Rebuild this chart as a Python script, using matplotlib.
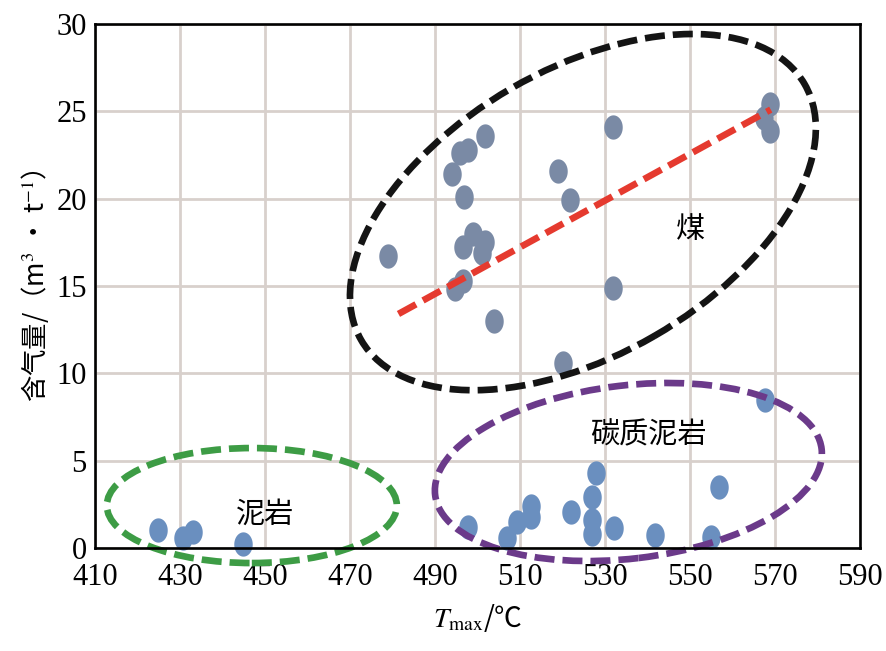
import numpy as np
import matplotlib
matplotlib.use('Agg')
import matplotlib.pyplot as plt
from matplotlib.patches import Ellipse
from matplotlib.path import Path
import matplotlib.transforms as mtransforms

# ---- data ----
coal_tmax = [478.9, 493.9, 495.9, 497.8, 501.8, 496.9, 499.0, 496.7, 501.8, 501.0,
             496.7, 494.8, 503.9, 518.9, 521.8, 531.8, 531.8, 520.0, 568.8, 567.4, 568.8]
coal_gas = [16.7, 21.4, 22.6, 22.8, 23.6, 20.1, 18.0, 17.25, 17.5, 16.9,
            15.3, 14.8, 13.0, 21.6, 19.9, 24.1, 14.9, 10.6, 25.4, 24.6, 23.9]

carb_tmax = [497.8, 506.9, 509.3, 512.7, 512.7, 521.9, 527.9, 526.9, 526.9, 526.9,
             532.0, 541.8, 554.9, 556.8, 567.6]
carb_gas = [1.22, 0.55, 1.5, 2.4, 1.75, 2.08, 4.27, 2.9, 1.6, 0.8,
            1.13, 0.74, 0.65, 3.47, 8.47]

mud_tmax = [424.9, 430.6, 433.0, 444.9]
mud_gas = [1.03, 0.6, 0.93, 0.23]

trend_tmax = [481.4, 569.0]
trend_gas = [13.4, 25.1]

x_ticks = [410, 430, 450, 470, 490, 510, 530, 550, 570, 590]
y_ticks = [0, 5, 10, 15, 20, 25, 30]

labels = ['煤', '碳质泥岩', '泥岩']
label_x = [550.0, 540.1, 450.0]
label_y = [18.2, 6.47, 1.9]

# ---- style ----
plt.rcParams['mathtext.fontset'] = 'stix'
cjk = ['Noto Sans CJK SC', 'DejaVu Sans']
serif = ['Liberation Serif', 'DejaVu Serif']

fig = plt.figure(figsize=(8.86, 6.51), dpi=100)
ax = fig.add_axes([95/886, 1-548/651, (860-95)/886, (548-24)/651])

ax.set_xlim(410, 590)
ax.set_ylim(0, 30)
ax.set_xticks(x_ticks)
ax.set_yticks(y_ticks)
ax.grid(True, color='#d8d0cc', lw=2.0, zorder=0)
ax.set_axisbelow(True)
ax.tick_params(length=0, labelsize=22, pad=11)
ax.tick_params(axis='y', pad=6)
for lab in ax.get_xticklabels() + ax.get_yticklabels():
    lab.set_family(serif)
for s in ax.spines.values():
    s.set_linewidth(1.9)
    s.set_color('black')
    s.set_zorder(5)

# marker: slightly tall ellipse
t = np.linspace(0, 2*np.pi, 65)
mk = Path(np.column_stack([0.76*np.cos(t), np.sin(t)]), closed=True)

ax.scatter(coal_tmax, coal_gas, s=17.5**2, marker=mk, color='#7a8aa5', lw=0, zorder=3)
ax.scatter(carb_tmax, carb_gas, s=17.5**2, marker=mk, color='#6a8fbf', lw=0, zorder=3, clip_on=False)
ax.scatter(mud_tmax, mud_gas, s=17.5**2, marker=mk, color='#6a8fbf', lw=0, zorder=3, clip_on=False)

ax.plot(trend_tmax, trend_gas, color='#e53a2f', lw=4.8, linestyle=(0, (3.0, 1.2)), zorder=4,
        solid_capstyle='butt', dash_capstyle='butt')


def draw_ellipse(cx, cy, a_in, b_in, ang, color):
    tr = fig.dpi_scale_trans + mtransforms.ScaledTranslation(cx, cy, ax.transData)
    e = Ellipse((0, 0), 2*a_in, 2*b_in, angle=ang, transform=tr, fill=False,
                edgecolor=color, lw=4.8, linestyle=(0, (3.0, 1.2)), clip_on=False, zorder=4)
    ax.add_patch(e)


draw_ellipse(524.8, 19.23, 2.56, 1.43, 30, '#141414')
draw_ellipse(535.5, 4.35, 1.946, 0.866, 6.8, '#6b3a8a')
draw_ellipse(446.9, 2.43, 1.45, 0.575, 0, '#3d9c45')

for txt, x, y in zip(labels, label_x, label_y):
    ax.text(x, y, txt, fontsize=21, family=cjk, ha='center', va='center', zorder=6)

ax.set_xlabel('$T_{\\mathrm{max}}$/℃', fontsize=20, family=cjk, labelpad=7)
ax.set_ylabel('含气量/（m$^{3}$ • t$^{-1}$）', fontsize=19, family=cjk, labelpad=4)

fig.savefig('out.png', dpi=100)
